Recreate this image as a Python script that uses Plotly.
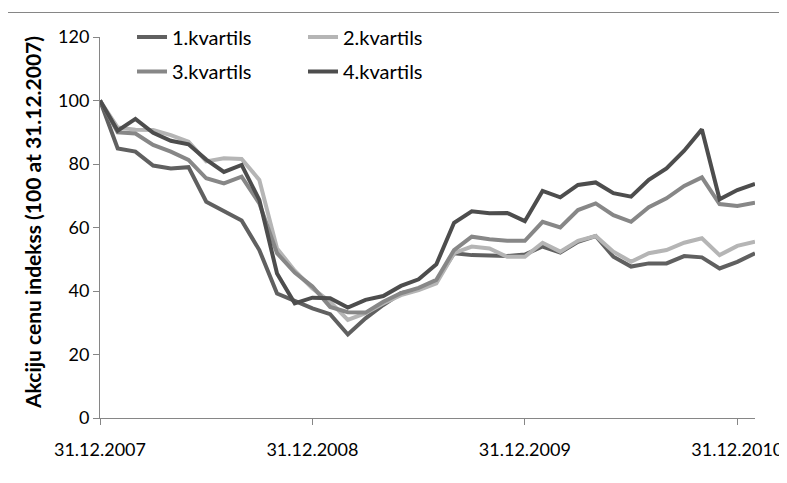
import pandas as pd
import plotly.graph_objects as go

# Month-end categories, Dec 2007 .. Jan 2011
months = list(pd.date_range("2007-12-31", periods=38, freq="ME").strftime("%d.%m.%Y"))
tick_labels = ["31.12.2007", "31.12.2008", "31.12.2009", "31.12.2010"]

q1 = [100, 84.9, 83.9, 79.5, 78.6, 79.0, 68.1, 65.3, 62.2, 52.9, 39.2, 36.9, 34.5,
      32.7, 26.3, 31.4, 35.6, 39.3, 40.5, 43.0, 51.9, 51.3, 51.0, 51.0, 51.5, 54.0,
      52.1, 55.5, 57.3, 50.8, 47.7, 48.7, 48.7, 51.0, 50.6, 47.1, 49.2, 51.9]
q2 = [100, 91.5, 90.8, 90.7, 89.1, 87.0, 80.8, 81.8, 81.6, 75.0, 53.4, 46.4, 40.8,
      36.6, 30.9, 33.0, 36.1, 38.7, 40.3, 42.4, 51.9, 54.0, 53.4, 50.8, 50.8, 55.2,
      52.4, 55.8, 57.3, 52.4, 49.2, 51.9, 52.9, 55.2, 56.6, 51.3, 54.2, 55.5]
q3 = [100, 90.0, 89.6, 86.0, 83.9, 81.3, 75.5, 73.9, 76.0, 67.6, 51.9, 45.8, 41.4,
      35.0, 33.3, 33.2, 36.6, 39.3, 41.0, 43.5, 52.9, 57.1, 56.3, 55.8, 55.8, 61.8,
      60.0, 65.5, 67.6, 63.9, 61.8, 66.4, 69.2, 73.1, 75.8, 67.4, 66.8, 67.8]
q4 = [100, 90.5, 94.2, 89.8, 87.3, 86.2, 81.4, 77.5, 79.7, 68.7, 45.5, 36.1, 37.9,
      37.7, 34.8, 37.2, 38.4, 41.6, 43.7, 48.4, 61.5, 65.1, 64.5, 64.6, 62.0, 71.5,
      69.5, 73.4, 74.2, 70.8, 69.7, 75.0, 78.6, 84.2, 90.9, 68.9, 71.8, 73.7]

series = [
    ("1.kvartils", q1, "#606060", "legend"),
    ("2.kvartils", q2, "#b5b5b5", "legend"),
    ("3.kvartils", q3, "#878787", "legend2"),
    ("4.kvartils", q4, "#4d4d4d", "legend2"),
]

FONT = "Lato"
fig = go.Figure()
for name, vals, col, lg in series:
    fig.add_trace(go.Scatter(x=months, y=vals, name=name, mode="lines",
                             line=dict(color=col, width=4), legend=lg))

OFF = 8  # page body margin
W, H = 787 - OFF, 483 - OFF
# plot area in screen pixels: x 100..754.7, y 37..418
SL, SR, ST, SB = 100, 754.7, 37, 418
L, T = SL - OFF, ST - OFF
R = W - (SR - OFF)
B = H - (SB - OFF)
pw, ph = SR - SL, SB - ST

def px(x):  # screen x -> paper
    return (x - SL) / pw

def py(y):  # screen y -> paper
    return (SB - y) / ph

axis_col = "#868686"
fig.update_layout(
    width=W, height=H,
    margin=dict(l=L, r=R, t=T, b=B, autoexpand=False),
    paper_bgcolor="white", plot_bgcolor="white",
    font=dict(family=FONT, size=18, color="#000000"),
    xaxis=dict(type="category", range=[0, 37], showgrid=False, showline=True,
               linecolor=axis_col, linewidth=1, ticks="outside", ticklen=6,
               tickcolor=axis_col, tickvals=tick_labels, ticktext=tick_labels,
               ticklabelstandoff=9, zeroline=False, automargin=False),
    yaxis=dict(range=[0, 120], tickvals=[0, 20, 40, 60, 80, 100, 120],
               showgrid=False, showline=True, linecolor=axis_col, linewidth=1,
               ticks="outside", ticklen=6, tickcolor=axis_col, zeroline=False,
               automargin=False),
    legend=dict(orientation="h", x=px(132), y=py(17.5), xanchor="left", yanchor="top",
                entrywidth=126, entrywidthmode="pixels", bgcolor="rgba(0,0,0,0)",
                font=dict(family=FONT, size=20)),
    legend2=dict(orientation="h", x=px(132), y=py(52), xanchor="left", yanchor="top",
                 entrywidth=126, entrywidthmode="pixels", bgcolor="rgba(0,0,0,0)",
                 font=dict(family=FONT, size=20)),
    showlegend=True,
)

fig.add_annotation(text="<b>Akciju cenu indekss (100 at 31.12.2007)</b>",
                   xref="paper", yref="paper", x=px(33), y=py(222),
                   xanchor="center", yanchor="middle", textangle=-90,
                   showarrow=False, font=dict(family=FONT, size=21))

# outer chart frame
fig.add_shape(type="rect", xref="paper", yref="paper",
              x0=px(2), x1=px(784.5), y0=py(500), y1=py(12.5),
              line=dict(color=axis_col, width=1), fillcolor="rgba(0,0,0,0)",
              layer="below")

fig.write_html("out.html")
